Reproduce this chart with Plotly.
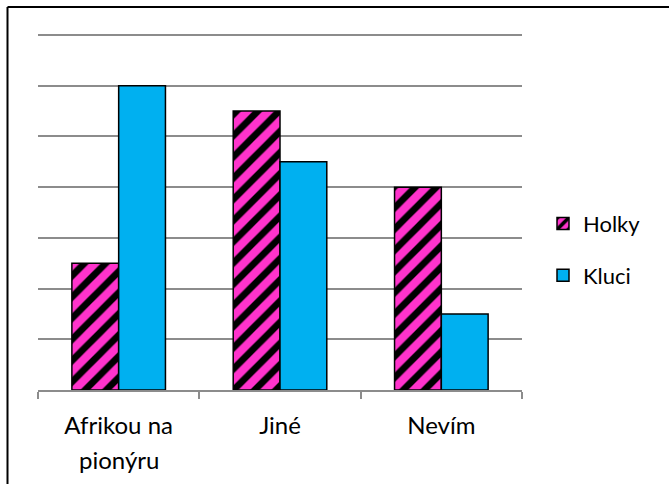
import plotly.graph_objects as go

categories = ["Afrikou na pionýru", "Jiné", "Nevím"]
first_lines = ["Afrikou na", "Jiné", "Nevím"]
second_lines = ["pionýru", "", ""]
holky = [2.5, 5.5, 4]
kluci = [6, 4.5, 1.5]
series_names = ["Holky", "Kluci"]

FONT = "Lato, 'Open Sans', sans-serif"
FS = 22
TFS = 24

fig = go.Figure()
fig.add_trace(go.Bar(
    x=categories, y=holky, name=series_names[0], legendgroup="a",
    marker=dict(color="#FF33CC", line=dict(color="black", width=1.5),
                pattern=dict(shape="/", fgcolor="black", bgcolor="#FF33CC",
                             fgopacity=1, size=15, solidity=0.45, fillmode="overlay")),
))
fig.add_trace(go.Bar(
    x=categories, y=kluci, name=series_names[1], legendgroup="b",
    marker=dict(color="#00B0F0", line=dict(color="black", width=1.5)),
))

annotations = []
for cat, line2 in zip(categories, second_lines):
    if line2:
        annotations.append(dict(x=cat, xref="x", y=-0.195, yref="paper",
                                text=line2, showarrow=False, yanchor="middle",
                                font=dict(family=FONT, size=TFS, color="black")))

X0 = (7.5 - 38) / 484
Y1 = (390 - 7) / 356
border = dict(color="black", width=2)
fig.update_layout(
    width=669, height=484,
    margin=dict(l=38, r=147, t=34, b=94),
    paper_bgcolor="white", plot_bgcolor="white",
    barmode="group", bargap=0.42, bargroupgap=0,
    font=dict(family=FONT, size=FS, color="black"),
    showlegend=True,
    legend=dict(x=(543 - 38) / 484, y=0.394, xanchor="left", yanchor="middle",
                font=dict(size=FS), tracegroupgap=20, bgcolor="rgba(0,0,0,0)"),
    annotations=annotations,
    shapes=[
        dict(type="line", xref="paper", yref="paper", x0=X0, x1=1.5, y0=Y1, y1=Y1,
             line=border, layer="above"),
        dict(type="line", xref="paper", yref="paper", x0=X0, x1=X0, y0=-0.5, y1=Y1,
             line=border, layer="above"),
    ],
)
fig.update_yaxes(range=[0, 7.02], dtick=1, showticklabels=False, showgrid=True,
                 gridcolor="#8c8c8c", gridwidth=1.5, zeroline=False, showline=False)
fig.update_xaxes(showline=True, linecolor="#8c8c8c", linewidth=1.5,
                 ticks="outside", tickson="boundaries", ticklen=7,
                 tickcolor="#8c8c8c", tickwidth=1.5, showgrid=False,
                 tickvals=categories, ticktext=first_lines, ticklabelstandoff=13,
                 tickfont=dict(size=TFS, color="black"))

fig.write_html("out.html", config={"displayModeBar": False},
               post_script="document.body.style.margin='0';")
